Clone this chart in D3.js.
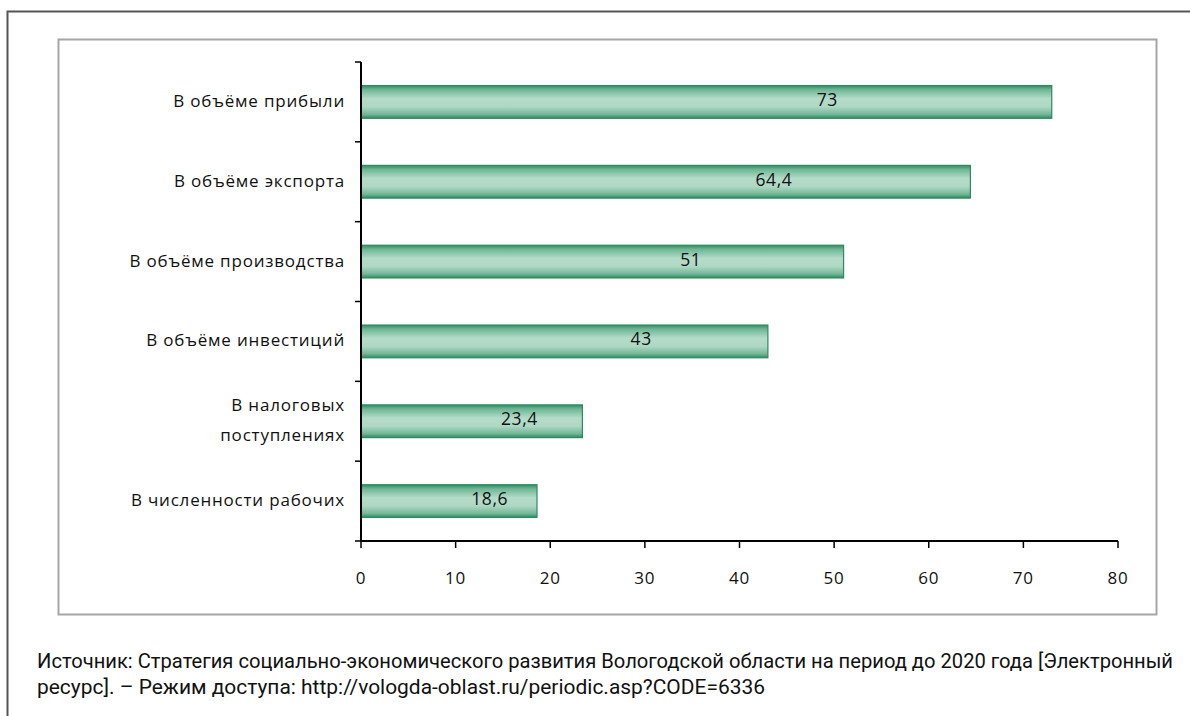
<!DOCTYPE html>
<html lang="ru">
  <head>
    <meta charset="utf-8" />
    <title>D3: horizontal bar chart</title>
    <script src="https://d3js.org/d3.v7.min.js"></script>
    <style type="text/css">
      body { margin: 0; background: #fff; }
    </style>
  </head>
  <body>
    <script type="text/javascript">
      const W = 1190;
      const H = 716;

      // categories (top to bottom) and values
      const categories = [
        ['В объёме прибыли'],
        ['В объёме экспорта'],
        ['В объёме производства'],
        ['В объёме инвестиций'],
        ['В налоговых', 'поступлениях'],
        ['В численности рабочих'],
      ];
      const values = [73, 64.4, 51, 43, 23.4, 18.6];
      const valueLabels = ['73', '64,4', '51', '43', '23,4', '18,6'];
      const xTicks = [0, 10, 20, 30, 40, 50, 60, 70, 80];
      const sourceLines = [
        'Источник: Стратегия социально-экономического развития Вологодской области на период до 2020 года [Электронный',
        'ресурс]. – Режим доступа: http://vologda-oblast.ru/periodic.asp?CODE=6336',
      ];

      const svg = d3.select('body').append('svg').attr('width', W).attr('height', H);

      // bar gradient
      const grad = svg.append('defs').append('linearGradient')
        .attr('id', 'barGrad').attr('x1', 0).attr('y1', 0).attr('x2', 0).attr('y2', 1);
      [[0, '#2f8c63'], [0.12, '#6db594'], [0.4, '#b4dcc9'], [0.65, '#aed8c4'], [0.88, '#72b797'], [1, '#2e8a61']]
        .forEach(([o, c]) => grad.append('stop').attr('offset', o).attr('stop-color', c));

      // outer border (top + left only visible)
      svg.append('path')
        .attr('d', `M${W + 5},11.5 H7.5 V${H + 5}`)
        .attr('fill', 'none').attr('stroke', '#555').attr('stroke-width', 2);

      // chart frame
      svg.append('rect')
        .attr('x', 58.5).attr('y', 39.5).attr('width', 1098).attr('height', 575)
        .attr('fill', 'none').attr('stroke', '#a6a6a6').attr('stroke-width', 2);

      const x = d3.scaleLinear().domain([0, 80]).range([361, 1118]);
      const y = d3.scaleBand().domain(d3.range(values.length)).range([62, 541]).paddingInner(0.59).paddingOuter(0.295);
      const band = d3.scaleBand().domain(d3.range(values.length)).range([62, 541]);

      // bars
      svg.selectAll('rect.bar')
        .data(values)
        .enter()
        .append('rect')
        .attr('class', 'bar')
        .attr('x', x(0))
        .attr('y', (d, i) => y(i))
        .attr('width', (d) => x(d) - x(0))
        .attr('height', y.bandwidth())
        .attr('fill', 'url(#barGrad)')
        .attr('stroke', '#2f8a60')
        .attr('stroke-width', 1.2);

      // value labels
      svg.selectAll('text.val')
        .data(values)
        .enter()
        .append('text')
        .attr('class', 'val')
        .text((d, i) => valueLabels[i])
        .attr('text-anchor', 'middle')
        .attr('x', (d) => x(1.4 + 0.656 * d))
        .attr('y', (d, i) => y(i) + y.bandwidth() / 2 + 4)
        .attr('font-family', '"Open Sans", sans-serif')
        .attr('font-size', '17.5px')
        .attr('letter-spacing', '0.6px')
        .attr('fill', '#111');

      // y axis line + ticks
      svg.append('line')
        .attr('x1', x(0)).attr('x2', x(0)).attr('y1', 62).attr('y2', 541)
        .attr('stroke', '#000').attr('stroke-width', 2);
      svg.selectAll('line.ytick')
        .data(d3.range(values.length + 1))
        .enter()
        .append('line')
        .attr('x1', x(0) - 6).attr('x2', x(0))
        .attr('y1', (d) => (d < values.length ? band(d) : 541))
        .attr('y2', (d) => (d < values.length ? band(d) : 541))
        .attr('stroke', '#000').attr('stroke-width', 1.5);

      // category labels
      const catG = svg.selectAll('text.cat')
        .data(categories)
        .enter()
        .append('text')
        .attr('class', 'cat')
        .attr('text-anchor', 'end')
        .attr('font-family', '"Open Sans", sans-serif')
        .attr('font-size', '17px')
        .attr('letter-spacing', '0.8px')
        .attr('fill', '#111')
        .attr('transform', (d, i) => `translate(${x(0) - 16},${band(i) + band.bandwidth() / 2})`);
      catG.selectAll('tspan')
        .data((d) => d.map((t, j) => ({ t, j, n: d.length })))
        .enter()
        .append('tspan')
        .attr('x', 0)
        .attr('y', (d) => (d.j - (d.n - 1) / 2) * 30 + 5)
        .text((d) => d.t);

      // x axis
      svg.append('line')
        .attr('x1', x(0)).attr('x2', x(80)).attr('y1', 541).attr('y2', 541)
        .attr('stroke', '#000').attr('stroke-width', 2);
      svg.selectAll('line.xtick')
        .data(xTicks)
        .enter()
        .append('line')
        .attr('x1', (d) => x(d)).attr('x2', (d) => x(d))
        .attr('y1', 541).attr('y2', 548)
        .attr('stroke', '#000').attr('stroke-width', 1.5);
      svg.selectAll('text.xlab')
        .data(xTicks)
        .enter()
        .append('text')
        .attr('class', 'xlab')
        .text((d) => d)
        .attr('text-anchor', 'middle')
        .attr('x', (d) => x(d))
        .attr('y', 584)
        .attr('font-family', '"Open Sans", sans-serif')
        .attr('font-size', '17px')
        .attr('letter-spacing', '0.8px')
        .attr('fill', '#111');

      // source note
      svg.selectAll('text.src')
        .data(sourceLines)
        .enter()
        .append('text')
        .attr('class', 'src')
        .text((d) => d)
        .attr('x', 37)
        .attr('y', (d, i) => 668 + i * 26)
        .attr('textLength', (d, i) => (i === 0 ? 1136 : 728))
        .attr('lengthAdjust', 'spacingAndGlyphs')
        .attr('font-family', 'Roboto, sans-serif')
        .attr('font-size', '20px')
        .attr('fill', '#111');
    </script>
  </body>
</html>
